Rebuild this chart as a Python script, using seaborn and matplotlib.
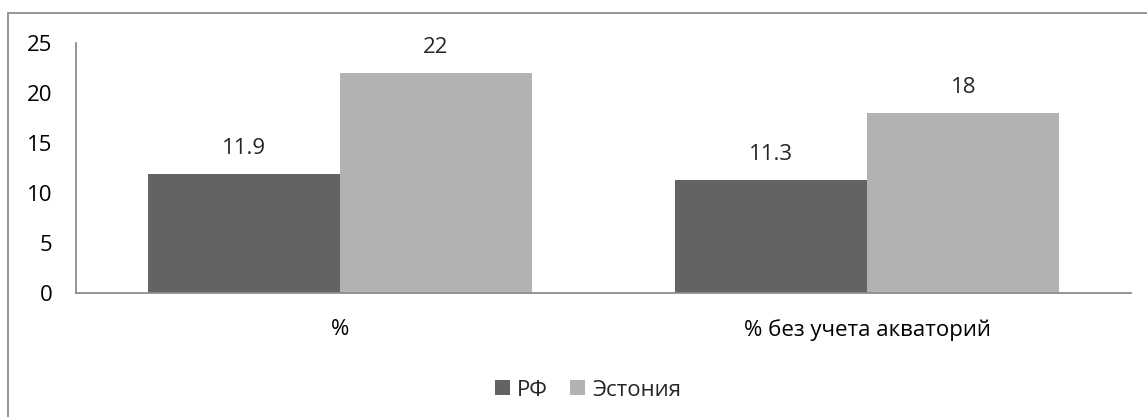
import matplotlib
matplotlib.use('Agg')
import matplotlib.pyplot as plt
from matplotlib.patches import Rectangle
import pandas as pd
import seaborn as sns

# Data
categories = ['%', '% без учета акваторий']
series = ['РФ', 'Эстония']
rf_values = [11.9, 11.3]
est_values = [22, 18]
colors = ['#636363', '#b2b2b2']

df = pd.DataFrame({
    'cat': categories * 2,
    'series': [series[0]] * 2 + [series[1]] * 2,
    'value': rf_values + est_values,
})

sns.set_style('white')
plt.rcParams['font.family'] = ['Open Sans', 'DejaVu Sans']
FS = 16

fig = plt.figure(figsize=(11.47, 4.17), dpi=100)
W, H = 1147, 417
ax = fig.add_axes([76 / W, 1 - 293 / H, (1131 - 76) / W, (293 - 43) / H])

sns.barplot(data=df, x='cat', y='value', hue='series', order=categories,
            hue_order=series, palette=colors, width=0.728, saturation=1,
            linewidth=0, ax=ax, legend=True)

ax.set_xlim(-0.5, 1.5)
ax.set_ylim(0, 25)
ax.set_yticks(range(0, 26, 5))
ax.set_xlabel('')
ax.set_ylabel('')
for s in ['top', 'right']:
    ax.spines[s].set_visible(False)
for s in ['left', 'bottom']:
    ax.spines[s].set_color('#8c8c8c')
    ax.spines[s].set_linewidth(1.3)
ax.tick_params(axis='y', length=0, pad=17, labelsize=FS, colors='black')
ax.tick_params(axis='x', length=0, pad=19, labelsize=FS, colors='black')

# value labels
for cont in ax.containers:
    for bar in cont:
        v = bar.get_height()
        ax.annotate(f'{v:g}', (bar.get_x() + bar.get_width() / 2, v),
                    xytext=(0, 18), textcoords='offset points',
                    ha='center', va='center', fontsize=FS)

ax.legend(loc='center', bbox_to_anchor=(588 / W, 1 - 390 / H),
          bbox_transform=fig.transFigure, ncol=2, frameon=False,
          fontsize=FS, handlelength=0.68, handleheight=0.68,
          handletextpad=0.32, columnspacing=1.0)

# chart border (top and left visible)
fig.patches.append(Rectangle((8 / W, -0.05), 1.1, 1 - 13 / H + 0.05,
                             transform=fig.transFigure, fill=False,
                             edgecolor='#8c8c8c', linewidth=1.3))

fig.savefig('out.png', dpi=100, facecolor='white')
